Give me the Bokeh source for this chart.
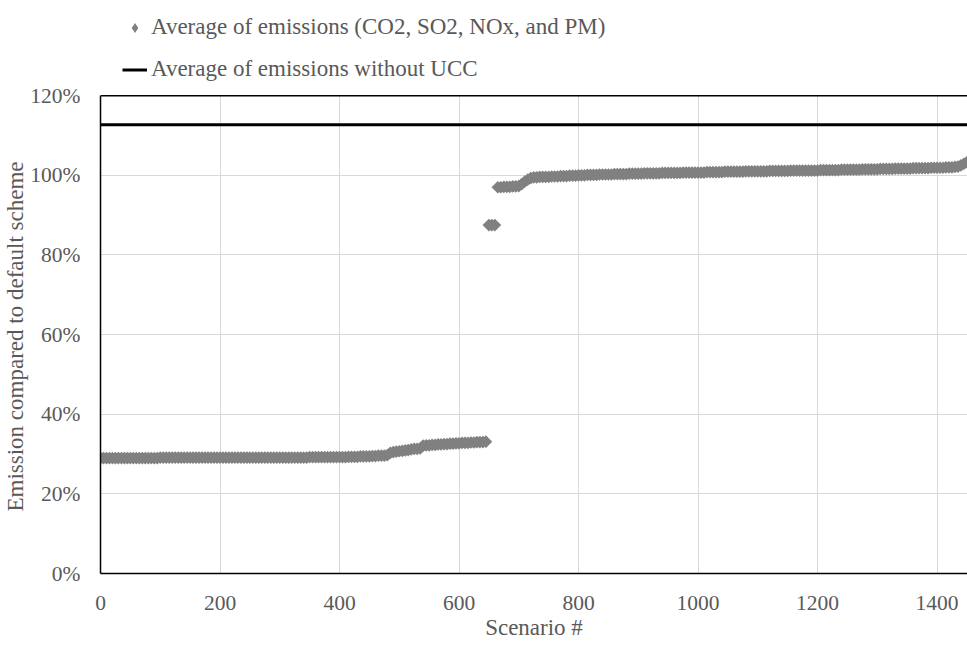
import numpy as np
from bokeh.plotting import figure
from bokeh.models import (Legend, LegendItem, Span, FixedTicker, BoxAnnotation,
                          PrintfTickFormatter, Range1d, ColumnDataSource, Title)
from bokeh.embed import file_html
from bokeh.resources import INLINE

# ---- data ----
# emissions compared to default scheme (%), one value every 5 scenarios, scenario 0..1450
emissions = [
    29.0, 29.0, 29.0, 29.0, 29.0, 29.0, 29.0, 29.0, 29.0, 29.0,      # 0-45
    29.0, 29.0, 29.0, 29.0, 29.0, 29.0, 29.0, 29.0, 29.0, 29.0,      # 50-95
    29.1, 29.1, 29.1, 29.1, 29.1, 29.1, 29.1, 29.1, 29.1, 29.1,      # 100-145
    29.1, 29.1, 29.1, 29.1, 29.1, 29.1, 29.1, 29.1, 29.1, 29.1,      # 150-195
    29.1, 29.1, 29.1, 29.1, 29.1, 29.1, 29.1, 29.1, 29.1, 29.1,      # 200-245
    29.1, 29.1, 29.1, 29.1, 29.1, 29.1, 29.1, 29.1, 29.1, 29.1,      # 250-295
    29.1, 29.1, 29.1, 29.1, 29.1, 29.1, 29.1, 29.1, 29.1, 29.1,      # 300-345
    29.2, 29.2, 29.2, 29.2, 29.2, 29.2, 29.2, 29.2, 29.2, 29.2,      # 350-395
    29.2, 29.2, 29.2, 29.3, 29.3, 29.3, 29.3, 29.4, 29.4, 29.4,      # 400-445
    29.4, 29.5, 29.5, 29.6, 29.6, 29.6, 29.7, 30.3, 30.5, 30.6,      # 450-495
    30.7, 30.8, 30.9, 31.0, 31.2, 31.3, 31.3, 31.4, 32.1, 32.2,      # 500-545
    32.2, 32.3, 32.3, 32.4, 32.4, 32.5, 32.5, 32.6, 32.6, 32.7,      # 550-595
    32.7, 32.8, 32.8, 32.8, 32.9, 32.9, 33.0, 33.0, 33.0, 33.1,      # 600-645
    87.5, 87.5, 87.5, 97.0, 97.0, 97.1, 97.1, 97.1, 97.2, 97.2,      # 650-695
    97.3, 97.8, 98.4, 98.9, 99.3, 99.5, 99.5, 99.6, 99.6, 99.6,      # 700-745
    99.6, 99.7, 99.7, 99.7, 99.8, 99.8, 99.8, 99.9, 99.9, 99.9,      # 750-795
    100.0, 100.0, 100.0, 100.1, 100.1, 100.1, 100.1, 100.2, 100.2, 100.2,  # 800-845
    100.2, 100.2, 100.3, 100.3, 100.3, 100.3, 100.3, 100.4, 100.4, 100.4,  # 850-895
    100.4, 100.4, 100.5, 100.5, 100.5, 100.5, 100.5, 100.5, 100.6, 100.6,  # 900-945
    100.6, 100.6, 100.6, 100.6, 100.6, 100.7, 100.7, 100.7, 100.7, 100.7,  # 950-995
    100.7, 100.7, 100.7, 100.8, 100.8, 100.8, 100.8, 100.8, 100.8, 100.9,  # 1000-1045
    100.9, 100.9, 100.9, 100.9, 100.9, 100.9, 101.0, 101.0, 101.0, 101.0,  # 1050-1095
    101.0, 101.0, 101.0, 101.0, 101.1, 101.1, 101.1, 101.1, 101.1, 101.1,  # 1100-1145
    101.1, 101.2, 101.2, 101.2, 101.2, 101.2, 101.2, 101.2, 101.2, 101.2,  # 1150-1195
    101.2, 101.3, 101.3, 101.3, 101.3, 101.3, 101.3, 101.3, 101.4, 101.4,  # 1200-1245
    101.4, 101.4, 101.4, 101.4, 101.4, 101.5, 101.5, 101.5, 101.5, 101.5,  # 1250-1295
    101.5, 101.6, 101.6, 101.6, 101.6, 101.6, 101.7, 101.7, 101.7, 101.7,  # 1300-1345
    101.7, 101.7, 101.8, 101.8, 101.8, 101.8, 101.8, 101.8, 101.9, 101.9,  # 1350-1395
    101.9, 101.9, 101.9, 102.0, 102.0, 102.0, 102.1, 102.2, 102.5, 102.9,  # 1400-1445
    103.3,                                                               # 1450
]
scenario_step = 5
scenarios = [i * scenario_step for i in range(len(emissions))]
without_ucc = 112.7

x_ticks = [0, 200, 400, 600, 800, 1000, 1200, 1400]
y_ticks = [0, 20, 40, 60, 80, 100, 120]
x_max = 1451
y_axis_max = 120
y_view_max = 143.9   # extra room above the axis box, used for the legend

label_series = "Average of emissions (CO2, SO2, NOx, and PM)"
label_line = "Average of emissions without UCC"
x_title = "Scenario #"
y_title = "Emission compared to default scheme"

FONT = "Liberation Serif"
FS = "21.5px"       # tick labels
FS_T = "23px"       # titles and legend
TXT = "#595959"
GRAY = "#808080"

p = figure(width=967, height=646, output_backend="svg", toolbar_location=None,
           x_range=Range1d(0, x_max), y_range=Range1d(0, y_view_max),
           min_border_left=100, min_border_right=0,
           min_border_top=0, min_border_bottom=73)
p.outline_line_color = None
p.background_fill_color = "white"
p.border_fill_color = "white"

src = ColumnDataSource(dict(x=scenarios, y=emissions))
sc = p.scatter("x", "y", source=src, marker="square", angle=np.pi / 4, size=9,
               fill_color=GRAY, line_color=None)
ln = p.line([0, x_max], [without_ucc, without_ucc], line_color="black", line_width=3)
# legend-only glyph (diamond symbol); its single point is not drawable (NaN)
sc_key = p.scatter(x=[float("nan")], y=[float("nan")], marker="diamond",
                   fill_color=GRAY, line_color=None)

# hide the part of the frame above the axis box
p.add_layout(BoxAnnotation(bottom=y_axis_max, fill_color="white", fill_alpha=1,
                           line_color=None))
p.add_layout(Span(location=y_axis_max, dimension="width", line_color="black",
                  line_width=1.5))

for ax in (p.xaxis, p.yaxis):
    ax.axis_line_color = "black"
    ax.axis_line_width = 1.5
    ax.major_tick_line_color = None
    ax.minor_tick_line_color = None
    ax.major_label_text_font = FONT
    ax.major_label_text_font_size = FS
    ax.major_label_text_color = TXT
    ax.axis_label_text_font = FONT
    ax.axis_label_text_font_size = FS_T
    ax.axis_label_text_color = TXT
    ax.axis_label_text_font_style = "normal"

p.yaxis.bounds = (0, y_axis_max)
p.xaxis.ticker = FixedTicker(ticks=x_ticks)
p.yaxis.ticker = FixedTicker(ticks=y_ticks)
p.yaxis.formatter = PrintfTickFormatter(format="%d%%")
p.xaxis.axis_label = x_title
p.yaxis.major_label_standoff = 14
p.xaxis.major_label_standoff = 16
p.xaxis.axis_label_standoff = 2

# y title centred on the 0-120 % box (not on the whole frame)
p.add_layout(Title(text=y_title, align="left", offset=62, standoff=0,
                   text_font=FONT, text_font_size=FS_T, text_color=TXT,
                   text_font_style="normal"), "left")

p.xgrid.ticker = FixedTicker(ticks=x_ticks)
p.ygrid.ticker = FixedTicker(ticks=y_ticks)
p.grid.grid_line_color = "#d9d9d9"
p.grid.grid_line_width = 1

legend = Legend(items=[LegendItem(label=label_series, renderers=[sc_key]),
                       LegendItem(label=label_line, renderers=[ln])],
                location=(22, 491), orientation="vertical",
                glyph_width=25, glyph_height=25, label_standoff=4,
                label_height=26, spacing=16, padding=0, margin=0,
                border_line_color=None, background_fill_alpha=0,
                label_text_font=FONT, label_text_font_size=FS_T,
                label_text_color=TXT)
p.add_layout(legend)

open("out.html", "w").write(file_html(p, INLINE))
